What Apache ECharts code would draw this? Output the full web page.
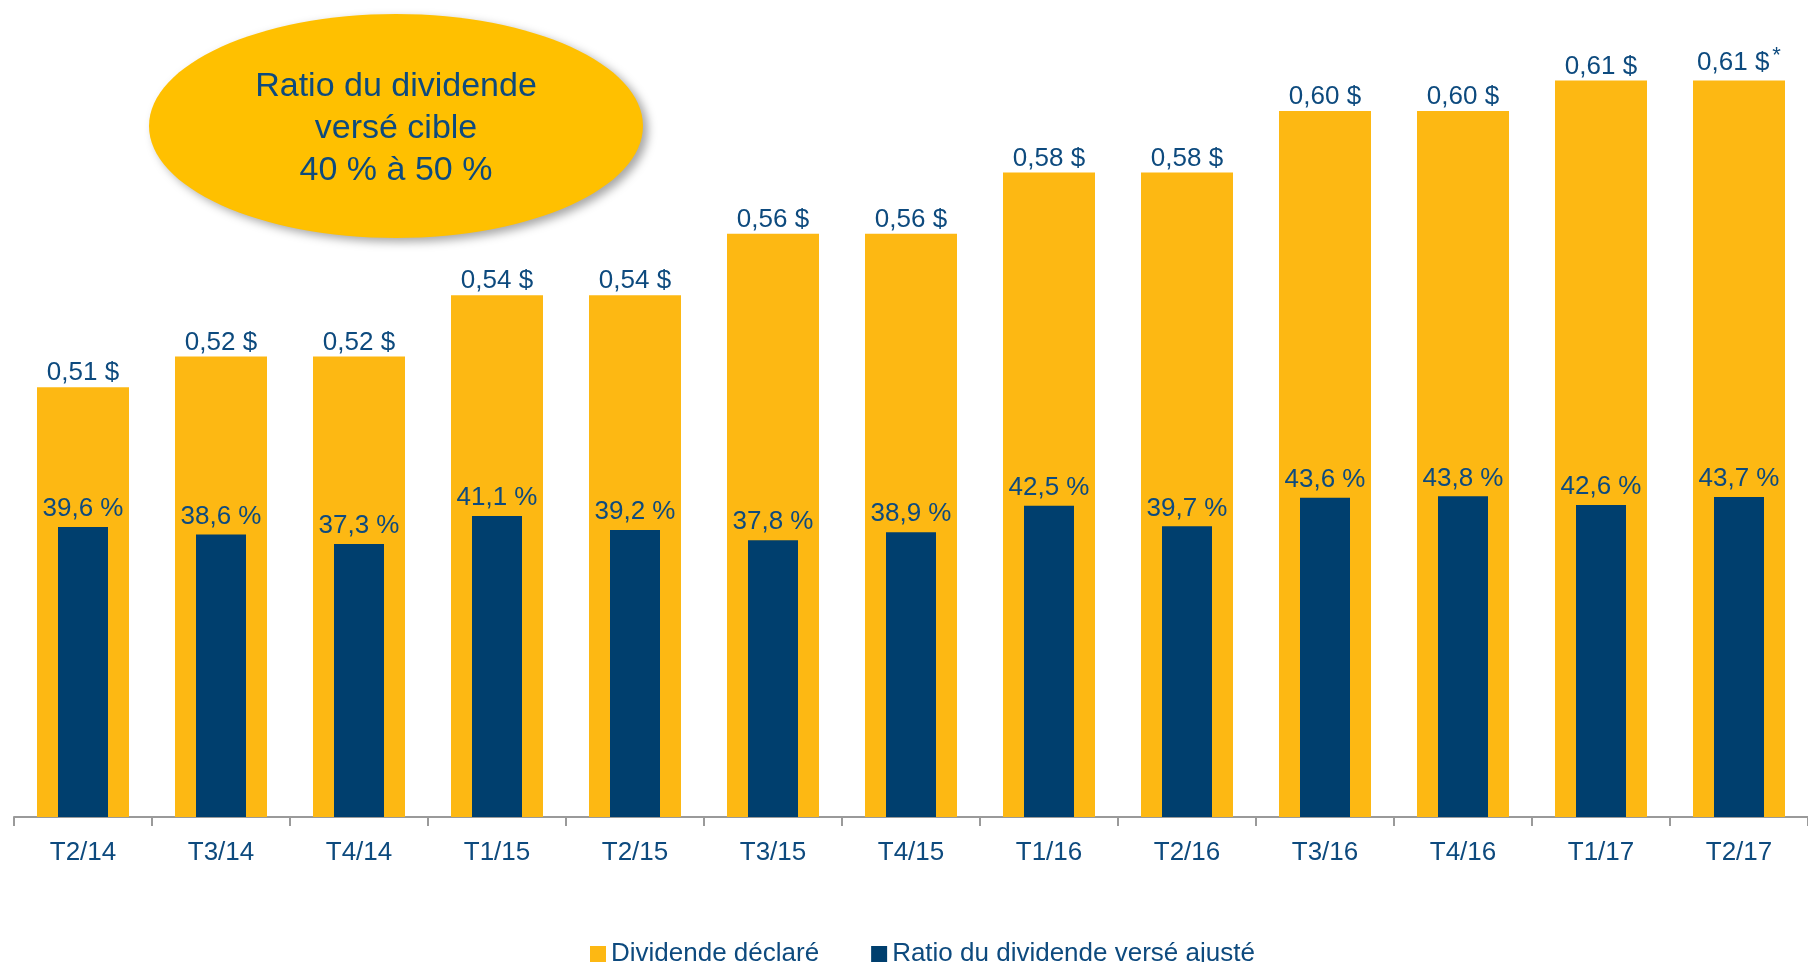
<!DOCTYPE html>
<html>
<head>
<meta charset="utf-8">
<script src="https://cdn.jsdelivr.net/npm/echarts@6/dist/echarts.min.js"></script>
<style>
  html, body { margin: 0; padding: 0; background: #ffffff; }
  #chart { width: 1808px; height: 962px; }
</style>
</head>
<body>
<div id="chart"></div>
<script>
// Quarters shown along the axis
const quarters = ['T2/14', 'T3/14', 'T4/14', 'T1/15', 'T2/15', 'T3/15', 'T4/15',
                  'T1/16', 'T2/16', 'T3/16', 'T4/16', 'T1/17', 'T2/17'];
// Declared quarterly dividend ($ per share)
const dividends = [0.51, 0.52, 0.52, 0.54, 0.54, 0.56, 0.56, 0.58, 0.58, 0.60, 0.60, 0.61, 0.61];
// Adjusted dividend payout ratio (%)
const payoutRatios = [39.6, 38.6, 37.3, 41.1, 39.2, 37.8, 38.9, 42.5, 39.7, 43.6, 43.8, 42.6, 43.7];
// Quarters whose dividend label carries a footnote mark
const footnoted = ['T2/17'];

const GOLD = '#FDB813';
const NAVY = '#003F6E';
const TEXT = '#0D4A7E';
const FONT = '"Liberation Sans", Arial, sans-serif';

const chart = echarts.init(document.getElementById('chart'));

const fmtDollar = v => v.toFixed(2).replace('.', ',') + ' $';
const fmtPct = v => v.toFixed(1).replace('.', ',') + ' %';

chart.setOption({
  animation: false,
  textStyle: { fontFamily: FONT },
  legend: {
    left: 585,
    top: 936,
    icon: 'rect',
    itemWidth: 16,
    itemHeight: 16,
    itemGap: 52,
    textStyle: { fontSize: 26, color: TEXT, fontFamily: FONT },
    data: ['Dividende déclaré', 'Ratio du dividende versé ajusté']
  },
  grid: { left: 14, top: 19, width: 1807, height: 798, containLabel: false },
  xAxis: [
    {
      type: 'category',
      data: quarters,
      axisLine: { lineStyle: { color: '#9a9a9a', width: 2 } },
      axisTick: { show: true, length: 9, lineStyle: { color: '#9a9a9a', width: 2 } },
      axisLabel: { margin: 23, fontSize: 26, color: TEXT, fontFamily: FONT }
    },
    {
      // second copy of the category axis so the ratio bars center on each quarter
      type: 'category',
      data: quarters,
      position: 'bottom',
      show: false
    }
  ],
  yAxis: [
    { type: 'value', min: 0.37, max: 0.63, show: false, splitLine: { show: false } },
    { type: 'value', min: 0, max: 109, show: false, splitLine: { show: false } }
  ],
  series: [
    {
      name: 'Dividende déclaré',
      type: 'bar',
      xAxisIndex: 0,
      yAxisIndex: 0,
      data: dividends,
      barWidth: 92,
      itemStyle: { color: GOLD },
      label: {
        show: true,
        position: 'top',
        distance: 1,
        fontSize: 26,
        color: TEXT,
        fontFamily: FONT,
        formatter: p => footnoted.includes(p.name)
          ? '{v|' + fmtDollar(p.value) + '}{s|*}'
          : fmtDollar(p.value),
        rich: {
          v: { fontSize: 26, color: TEXT, fontFamily: FONT },
          s: { fontSize: 22, color: TEXT, fontFamily: FONT, verticalAlign: 'top', padding: [0, 0, 12, 3] }
        }
      },
      z: 1
    },
    {
      name: 'Ratio du dividende versé ajusté',
      type: 'bar',
      xAxisIndex: 1,
      yAxisIndex: 1,
      data: payoutRatios,
      barWidth: 50,
      itemStyle: { color: NAVY },
      label: {
        show: true,
        position: 'top',
        distance: 5,
        fontSize: 26,
        color: TEXT,
        fontFamily: FONT,
        formatter: p => fmtPct(p.value)
      },
      z: 2
    }
  ],
  graphic: [
    {
      type: 'ellipse',
      shape: { cx: 396, cy: 126, rx: 247, ry: 112 },
      style: {
        fill: '#FFC000',
        shadowBlur: 10,
        shadowOffsetX: 5,
        shadowOffsetY: 4,
        shadowColor: 'rgba(0,0,0,0.35)'
      },
      z: 10
    },
    {
      type: 'text',
      x: 396,
      y: 66,
      style: {
        text: 'Ratio du dividende\nversé cible\n40 % à 50 %',
        align: 'center',
        verticalAlign: 'top',
        fontSize: 34,
        lineHeight: 42,
        fill: TEXT,
        fontFamily: FONT
      },
      z: 11
    }
  ]
});
</script>
</body>
</html>
